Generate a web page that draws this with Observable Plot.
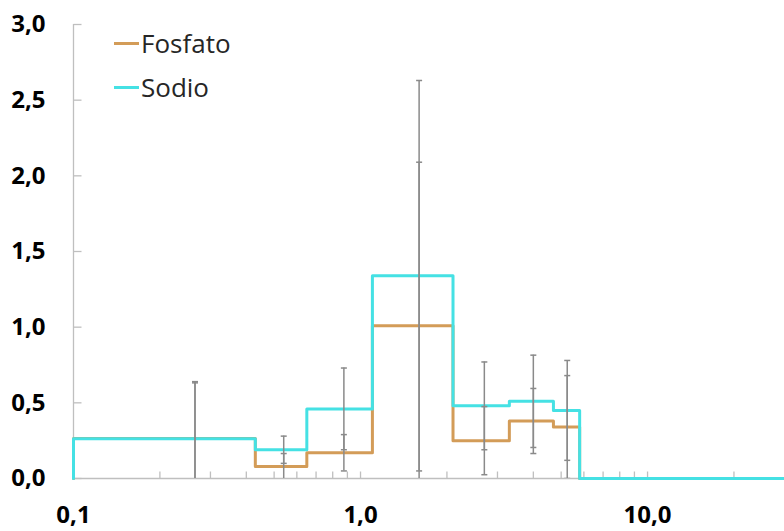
<!DOCTYPE html>
<html><head><meta charset="utf-8">
<script src="https://cdn.jsdelivr.net/npm/d3@7"></script>
<script src="https://cdn.jsdelivr.net/npm/@observablehq/plot@0.6"></script>
<style>
body{margin:0;background:#fff;}
#wrap{position:relative;width:784px;height:531px;overflow:hidden;}
#chart svg text{font-family:"Open Sans",sans-serif;font-size:24px;font-weight:700;fill:#000;}
#legend{position:absolute;left:114px;top:21px;font-family:"Open Sans",sans-serif;font-size:26px;color:#262626;}
.row{display:flex;align-items:center;height:44px;}
.sw{width:25px;height:3px;margin-right:2px;}
</style></head><body>
<div id="wrap"><div id="chart"></div><div id="legend"></div></div>
<script>
const seriesNames = ["Fosfato", "Sodio"];
const seriesColors = ["#D39C58", "#45E1E4"];
const binEdges = [0.1, 0.43, 0.65, 1.1, 2.1, 3.3, 4.7, 5.8, 30];
const fosfato = [0.265, 0.08, 0.17, 1.01, 0.25, 0.38, 0.34, 0];
const sodio = [0.262, 0.19, 0.46, 1.34, 0.48, 0.51, 0.45, 0];
const errX = [0.265, 0.54, 0.875, 1.6, 2.7, 4.0, 5.25];
const fosfatoErr = [0.375, 0.085, 0.12, 1.08, 0.225, 0.215, 0.34];
const sodioErr = [0.37, 0.09, 0.27, 1.29, 0.29, 0.305, 0.33];
const yTicks = [0, 0.5, 1, 1.5, 2, 2.5, 3];
const xLabelTicks = [0.1, 1, 10];
const xMinorTicks = [0.2, 0.3, 0.4, 0.5, 0.6, 0.7, 0.8, 0.9, 1, 2, 3, 4, 5, 6, 7, 8, 9, 10, 20];

const fmt = d3.formatLocale({decimal: ",", thousands: ".", grouping: [3], currency: ["", "€"]}).format(".1f");

function stepData(vals) {
  const pts = [{x: binEdges[0], y: 0}];
  vals.forEach((v, i) => pts.push({x: binEdges[i], y: v}));
  pts.push({x: binEdges[binEdges.length - 1], y: vals[vals.length - 1]});
  return pts;
}
const errData = [];
errX.forEach((x, i) => {
  errData.push({x, v: fosfato[i], e: fosfatoErr[i]});
  errData.push({x, v: sodio[i], e: sodioErr[i]});
});
const caps = errData.flatMap(d => [{x: d.x, y: d.v + d.e}, {x: d.x, y: d.v - d.e}]);

const capSym = {draw(ctx) { ctx.moveTo(-3, 0); ctx.lineTo(3, 0); }};
const yTickSym = {draw(ctx) { ctx.moveTo(0, 0); ctx.lineTo(8, 0); }};
const xTickSym = {draw(ctx) { ctx.moveTo(0, 0); ctx.lineTo(0, -7); }};

const axisGray = "#BFBFBF";
const errGray = "#8A8A8A";

const chart = Plot.plot({
  width: 784, height: 531,
  marginLeft: 73, marginRight: 0, marginTop: 24, marginBottom: 53,
  x: {type: "log", domain: [0.1, 30], label: null},
  y: {domain: [0, 3], label: null},
  style: {fontFamily: "'Open Sans', sans-serif", color: "#000", background: "#fff"},
  marks: [
    Plot.axisX(xLabelTicks, {tickSize: 0, tickPadding: 27, tickFormat: fmt, label: null}),
    Plot.axisY(yTicks, {tickSize: 0, tickPadding: 28, tickFormat: fmt, label: null}),
    Plot.ruleX([0.1], {y1: 0, y2: 3, stroke: axisGray, strokeWidth: 1.3}),
    Plot.ruleY([0], {stroke: axisGray, strokeWidth: 1.3}),
    Plot.dot(yTicks, {x: () => 0.1, y: d => d, symbol: yTickSym, r: 4, fill: "none", stroke: axisGray, strokeWidth: 1.3}),
    Plot.dot(xMinorTicks, {x: d => d, y: () => 0, symbol: xTickSym, r: 4, fill: "none", stroke: axisGray, strokeWidth: 1.3}),
    Plot.line(stepData(fosfato), {x: "x", y: "y", curve: "step-after", stroke: seriesColors[0], strokeWidth: 3}),
    Plot.line(stepData(sodio), {x: "x", y: "y", curve: "step-after", stroke: seriesColors[1], strokeWidth: 3}),
    Plot.ruleX(errData, {x: "x", y1: d => d.v - d.e, y2: d => d.v + d.e, stroke: errGray, strokeWidth: 1.5, clip: true}),
    Plot.dot(caps, {x: "x", y: "y", symbol: capSym, r: 4, fill: "none", stroke: errGray, strokeWidth: 1.5, clip: true})
  ]
});
document.getElementById("chart").appendChild(chart);

const legend = document.getElementById("legend");
seriesNames.forEach((name, i) => {
  const row = document.createElement("div");
  row.className = "row";
  const sw = document.createElement("div");
  sw.className = "sw";
  sw.style.background = seriesColors[i];
  const t = document.createElement("span");
  t.textContent = name;
  row.appendChild(sw); row.appendChild(t);
  legend.appendChild(row);
});
</script>
</body></html>
